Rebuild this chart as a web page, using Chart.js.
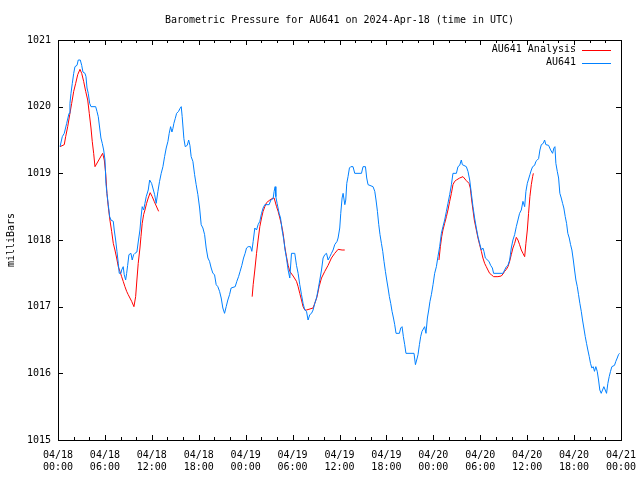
<!DOCTYPE html>
<html>
<head>
<meta charset="utf-8">
<title>Barometric Pressure AU641</title>
<script src="https://cdn.jsdelivr.net/npm/chart.js@4/dist/chart.umd.min.js"></script>
<style>
  body { margin: 0; background: #fff; }
  canvas { display: block; }
</style>
</head>
<body>
<canvas id="pressureChart" width="640" height="480"></canvas>
<script>
// DATA (hours since 04/18 00:00 UTC, pressure in mbar)
const tickDates = ["04/18","04/18","04/18","04/18","04/19","04/19","04/19","04/19","04/20","04/20","04/20","04/20","04/21"];
const tickTimes = ["00:00","06:00","12:00","18:00","00:00","06:00","12:00","18:00","00:00","06:00","12:00","18:00","00:00"];
const pressureTicks = [1015, 1016, 1017, 1018, 1019, 1020, 1021];

const seriesNames = ["AU641 Analysis", "AU641"];

// observed station pressure
const stationPoints = [
  [0.26,1019.4],[0.55,1019.55],[0.8,1019.6],[1.11,1019.75],[1.41,1019.9],[1.53,1020.05],[1.66,1020.2],[1.83,1020.35],[2.01,1020.5],[2.17,1020.6],
  [2.43,1020.62],[2.59,1020.7],[2.85,1020.7],[3.03,1020.62],[3.19,1020.52],[3.45,1020.5],[3.58,1020.45],[3.71,1020.28],[3.87,1020.2],[4.05,1020.05],
  [4.22,1020.0],[4.82,1020.0],[4.98,1019.93],[5.15,1019.85],[5.33,1019.68],[5.49,1019.53],[5.66,1019.45],[5.84,1019.35],[6.01,1019.2],[6.13,1018.85],
  [6.26,1018.7],[6.43,1018.53],[6.61,1018.35],[6.77,1018.3],[7.07,1018.28],[7.19,1018.15],[7.37,1018.0],[7.54,1017.83],[7.71,1017.65],[7.83,1017.5],
  [8.05,1017.5],[8.14,1017.55],[8.34,1017.6],[8.47,1017.48],[8.65,1017.4],[8.78,1017.5],[8.91,1017.62],[9.07,1017.78],[9.33,1017.8],[9.49,1017.7],
  [9.67,1017.78],[9.84,1017.8],[10.09,1017.82],[10.26,1017.97],[10.48,1018.15],[10.61,1018.33],[10.77,1018.5],[10.95,1018.45],[11.12,1018.55],[11.28,1018.65],
  [11.54,1018.75],[11.72,1018.9],[11.97,1018.85],[12.36,1018.68],[12.56,1018.55],[12.78,1018.73],[12.99,1018.88],[13.2,1019.0],[13.42,1019.1],[13.63,1019.25],
  [13.84,1019.38],[14.06,1019.48],[14.22,1019.6],[14.4,1019.7],[14.57,1019.62],[14.69,1019.67],[14.82,1019.75],[14.99,1019.82],[15.17,1019.9],[15.42,1019.93],
  [15.59,1019.97],[15.76,1020.0],[15.88,1019.85],[16.1,1019.52],[16.27,1019.4],[16.53,1019.42],[16.71,1019.5],[16.87,1019.42],[17.03,1019.25],[17.25,1019.18],
  [17.47,1018.98],[17.67,1018.83],[17.89,1018.68],[18.11,1018.48],[18.31,1018.23],[18.53,1018.18],[18.75,1018.08],[18.95,1017.88],[19.17,1017.73],[19.38,1017.68],
  [19.59,1017.58],[19.81,1017.5],[20.02,1017.48],[20.23,1017.33],[20.44,1017.3],[20.66,1017.23],[20.87,1017.13],[21.08,1016.98],[21.3,1016.9],[21.51,1017.0],
  [21.72,1017.1],[21.94,1017.18],[22.14,1017.28],[22.66,1017.3],[22.87,1017.38],[23.09,1017.45],[23.29,1017.53],[23.51,1017.62],[23.73,1017.73],[23.93,1017.8],
  [24.11,1017.88],[24.32,1017.9],[24.62,1017.9],[24.79,1017.83],[24.96,1017.98],[25.17,1018.18],[25.39,1018.15],[25.59,1018.23],[25.81,1018.28],[26.03,1018.4],
  [26.23,1018.48],[26.45,1018.53],[27.0,1018.53],[27.22,1018.6],[27.51,1018.62],[27.64,1018.73],[27.77,1018.8],[27.86,1018.65],[28.02,1018.55],[28.28,1018.4],
  [28.46,1018.33],[28.66,1018.15],[28.88,1018.0],[29.04,1017.85],[29.22,1017.73],[29.43,1017.55],[29.64,1017.43],[29.86,1017.8],[30.28,1017.8],[30.5,1017.62],
  [30.71,1017.5],[30.92,1017.33],[31.14,1017.18],[31.34,1017.05],[31.56,1016.95],[31.78,1016.93],[31.98,1016.8],[32.2,1016.88],[32.42,1016.9],[32.62,1016.95],
  [32.84,1017.05],[33.06,1017.13],[33.26,1017.25],[33.48,1017.4],[33.7,1017.55],[33.9,1017.73],[34.12,1017.78],[34.34,1017.8],[34.54,1017.7],[34.76,1017.75],
  [34.97,1017.8],[35.18,1017.85],[35.39,1017.93],[35.69,1017.98],[35.82,1018.03],[36.03,1018.18],[36.16,1018.4],[36.33,1018.63],[36.46,1018.7],[36.68,1018.53],
  [36.8,1018.6],[36.93,1018.85],[37.09,1018.95],[37.27,1019.08],[37.44,1019.1],[37.73,1019.1],[37.95,1019.0],[38.81,1019.0],[39.01,1019.1],[39.32,1019.1],
  [39.48,1018.93],[39.65,1018.83],[40.29,1018.8],[40.51,1018.73],[40.67,1018.6],[40.85,1018.43],[41.02,1018.23],[41.18,1018.08],[41.36,1017.95],[41.53,1017.83],
  [41.69,1017.68],[41.87,1017.53],[42.04,1017.4],[42.21,1017.28],[42.38,1017.15],[42.55,1017.05],[42.72,1016.93],[42.9,1016.83],[43.06,1016.73],[43.23,1016.6],
  [43.66,1016.6],[43.83,1016.68],[44.0,1016.7],[44.17,1016.55],[44.34,1016.43],[44.5,1016.3],[45.53,1016.3],[45.71,1016.13],[45.87,1016.2],[46.04,1016.28],
  [46.22,1016.43],[46.38,1016.55],[46.55,1016.63],[46.89,1016.7],[47.06,1016.6],[47.24,1016.83],[47.41,1016.95],[47.57,1017.08],[47.75,1017.18],[47.96,1017.33],
  [48.17,1017.5],[48.39,1017.6],[48.59,1017.75],[48.81,1017.9],[49.03,1018.1],[49.23,1018.2],[49.45,1018.3],[49.67,1018.43],[49.87,1018.55],[50.09,1018.68],
  [50.31,1018.83],[50.51,1019.0],[50.95,1019.0],[51.15,1019.1],[51.37,1019.12],[51.58,1019.2],[51.71,1019.13],[52.22,1019.1],[52.43,1019.03],[52.65,1018.9],
  [52.86,1018.7],[53.07,1018.5],[53.28,1018.33],[53.5,1018.18],[53.71,1018.05],[53.92,1017.95],[54.14,1017.85],[54.34,1017.88],[54.47,1017.83],[54.65,1017.73],
  [55.11,1017.68],[55.33,1017.62],[55.55,1017.58],[55.71,1017.5],[56.9,1017.5],[57.12,1017.55],[57.34,1017.6],[57.54,1017.62],[57.76,1017.7],[57.97,1017.88],
  [58.18,1018.0],[58.4,1018.08],[58.61,1018.2],[58.82,1018.3],[59.03,1018.4],[59.25,1018.45],[59.46,1018.58],[59.68,1018.5],[59.84,1018.73],[60.02,1018.85],
  [60.35,1018.98],[60.53,1019.05],[60.7,1019.1],[60.95,1019.12],[61.12,1019.18],[61.3,1019.2],[61.46,1019.22],[61.63,1019.35],[61.81,1019.43],[62.06,1019.45],
  [62.23,1019.5],[62.39,1019.43],[62.74,1019.42],[63.0,1019.35],[63.25,1019.3],[63.42,1019.38],[63.55,1019.4],[63.67,1019.15],[63.85,1019.03],[64.02,1018.93],
  [64.18,1018.7],[64.36,1018.63],[64.53,1018.55],[64.69,1018.48],[64.87,1018.35],[65.04,1018.25],[65.2,1018.1],[65.38,1018.03],[65.55,1017.93],[65.72,1017.85],
  [65.9,1017.7],[66.06,1017.55],[66.23,1017.4],[66.41,1017.3],[66.57,1017.18],[66.74,1017.05],[66.92,1016.93],[67.08,1016.8],[67.25,1016.68],[67.43,1016.55],
  [67.59,1016.45],[67.76,1016.35],[67.94,1016.25],[68.1,1016.15],[68.27,1016.08],[68.45,1016.1],[68.61,1016.03],[68.78,1016.1],[68.96,1016.03],[69.13,1015.9],
  [69.29,1015.75],[69.47,1015.7],[69.64,1015.75],[69.81,1015.8],[69.98,1015.75],[70.15,1015.7],[70.32,1015.85],[70.49,1015.95],[70.66,1016.03],[70.83,1016.1],
  [71.17,1016.12],[71.34,1016.18],[71.52,1016.23],[71.68,1016.28],[71.81,1016.3]
];

// analysis, null = gap between the three runs
const analysisPoints = [
  [0.26,1019.4],[0.8,1019.43],[0.98,1019.55],[1.24,1019.7],[1.5,1019.88],[1.75,1020.05],[2.01,1020.23],[2.26,1020.35],[2.52,1020.48],[2.81,1020.56],
  [3.03,1020.5],[3.28,1020.38],[3.54,1020.23],[3.8,1020.1],[4.0,1019.9],[4.22,1019.68],[4.38,1019.48],[4.56,1019.3],[4.73,1019.1],[5.71,1019.3],
  [5.92,1019.2],[6.1,1019.0],[6.26,1018.7],[6.43,1018.5],[6.64,1018.3],[6.86,1018.13],[7.07,1017.95],[7.28,1017.85],[7.5,1017.73],[7.71,1017.6],
  [7.92,1017.53],[8.14,1017.45],[8.34,1017.38],[8.56,1017.3],[8.78,1017.23],[8.98,1017.18],[9.42,1017.08],[9.71,1017.0],[9.93,1017.15],[10.09,1017.4],
  [10.26,1017.65],[10.48,1017.88],[10.61,1018.05],[10.77,1018.25],[10.95,1018.38],[11.12,1018.45],[11.33,1018.55],[11.54,1018.63],[11.79,1018.71],[12.05,1018.65],
  [12.3,1018.58],[12.87,1018.43],
  [18,null],
  [24.83,1017.15],[24.96,1017.33],[25.17,1017.55],[25.39,1017.8],[25.59,1018.0],[25.81,1018.2],[26.03,1018.33],[26.23,1018.43],[26.45,1018.5],[26.67,1018.56],
  [27.09,1018.6],[27.51,1018.63],[27.64,1018.63],[27.95,1018.5],[28.15,1018.43],[28.37,1018.33],[28.58,1018.23],[28.79,1018.1],[29.0,1017.9],[29.22,1017.75],
  [29.43,1017.62],[29.64,1017.53],[30.07,1017.46],[30.5,1017.38],[30.71,1017.3],[30.92,1017.2],[31.14,1017.1],[31.34,1017.0],[31.56,1016.95],[31.78,1016.95],
  [32.62,1016.98],[32.84,1017.05],[33.13,1017.15],[33.39,1017.3],[33.7,1017.43],[34.12,1017.53],[34.54,1017.62],[34.97,1017.73],[35.39,1017.8],[35.82,1017.86],
  [36.33,1017.85],[36.67,1017.85],
  [42,null],
  [48.72,1017.7],[48.9,1017.9],[49.07,1018.05],[49.23,1018.15],[49.45,1018.25],[49.67,1018.35],[49.87,1018.45],[50.09,1018.58],[50.31,1018.7],[50.51,1018.83],
  [50.73,1018.88],[50.95,1018.9],[51.37,1018.93],[51.79,1018.95],[52.22,1018.89],[52.56,1018.85],[52.73,1018.78],[52.9,1018.6],[53.07,1018.45],[53.24,1018.3],
  [53.5,1018.15],[53.71,1018.03],[53.92,1017.93],[54.14,1017.83],[54.34,1017.73],[54.56,1017.65],[54.77,1017.6],[54.98,1017.55],[55.2,1017.5],[55.41,1017.48],
  [55.71,1017.45],[56.26,1017.45],[56.69,1017.46],[56.9,1017.49],[57.12,1017.53],[57.34,1017.56],[57.54,1017.6],[57.76,1017.68],[57.97,1017.78],[58.18,1017.88],
  [58.4,1017.95],[58.61,1018.04],[58.82,1018.0],[59.03,1017.93],[59.25,1017.85],[59.46,1017.8],[59.68,1017.75],[59.84,1017.95],[60.02,1018.15],[60.18,1018.4],
  [60.35,1018.65],[60.53,1018.83],[60.7,1018.95],[60.79,1019.0]
];

const FONT = "'DejaVu Sans Mono', 'Liberation Mono', monospace";
const RED = "#ff0000";
const BLUE = "#0080ff";

const toXY = pts => pts.map(p => ({ x: p[0], y: p[1] }));

// gnuplot style frame, inward ticks, title, legend
const gnuplotDecor = {
  id: "gnuplotDecor",
  afterDatasetsDraw(chart) {
    const { ctx, chartArea: a, scales } = chart;
    const xs = scales.x, ys = scales.y;
    ctx.save();
    ctx.strokeStyle = "#000";
    ctx.lineWidth = 1;

    ctx.beginPath();
    // x ticks every 2h, longer every 6h
    for (let h = 0; h <= 72; h += 2) {
      const px = Math.round(xs.getPixelForValue(h)) + 0.5;
      const len = h % 6 === 0 ? 5 : 3;
      ctx.moveTo(px, a.bottom); ctx.lineTo(px, a.bottom - len);
      ctx.moveTo(px, a.top); ctx.lineTo(px, a.top + len);
    }
    pressureTicks.forEach(v => {
      const py = Math.round(ys.getPixelForValue(v)) + 0.5;
      ctx.moveTo(a.left, py); ctx.lineTo(a.left + 5, py);
      ctx.moveTo(a.right, py); ctx.lineTo(a.right - 5, py);
    });
    ctx.stroke();

    // border
    ctx.strokeRect(Math.round(a.left) + 0.5, Math.round(a.top) + 0.5,
      Math.round(a.right - a.left), Math.round(a.bottom - a.top));

    // title
    ctx.fillStyle = "#000";
    ctx.font = "10px " + FONT;
    ctx.textAlign = "center";
    ctx.textBaseline = "middle";
    ctx.fillText("Barometric Pressure for AU641 on 2024-Apr-18 (time in UTC)", (a.left + a.right) / 2, 20);

    // y axis title
    ctx.save();
    ctx.translate(11, (a.top + a.bottom) / 2);
    ctx.rotate(-Math.PI / 2);
    ctx.fillText("milliBars", 0, 0);
    ctx.restore();

    // legend
    const colors = [RED, BLUE];
    seriesNames.forEach((name, i) => {
      const y = 49.5 + i * 13;
      ctx.textAlign = "right";
      ctx.fillStyle = "#000";
      ctx.fillText(name, 576, y);
      ctx.strokeStyle = colors[i];
      ctx.beginPath();
      ctx.moveTo(582, Math.round(y) + 0.5);
      ctx.lineTo(611, Math.round(y) + 0.5);
      ctx.stroke();
    });
    ctx.restore();
  }
};

const ctx = document.getElementById("pressureChart");

new Chart(ctx, {
  type: "line",
  data: {
    datasets: [
      {
        label: seriesNames[1],
        data: toXY(stationPoints),
        borderColor: BLUE,
        borderWidth: 1,
        pointRadius: 0,
        tension: 0,
        fill: false
      },
      {
        label: seriesNames[0],
        data: toXY(analysisPoints),
        borderColor: RED,
        borderWidth: 1,
        pointRadius: 0,
        tension: 0,
        fill: false,
        spanGaps: false
      }
    ]
  },
  options: {
    responsive: false,
    animation: false,
    layout: { padding: { top: 40, right: 19, bottom: 0, left: 0 } },
    plugins: {
      legend: { display: false },
      tooltip: { enabled: false },
      title: { display: false }
    },
    scales: {
      x: {
        type: "linear",
        min: 0,
        max: 72,
        grid: { display: false, drawTicks: false },
        border: { display: false },
        // fixed box, no extra room for the edge labels
        afterFit: s => { s.height = 40; s.paddingLeft = 0; s.paddingRight = 0; },
        ticks: {
          stepSize: 6,
          autoSkip: false,
          maxRotation: 0,
          padding: 9,
          color: "#000",
          font: { family: FONT, size: 10, lineHeight: 1.2 },
          callback: (v, i) => [tickDates[i], tickTimes[i]]
        }
      },
      y: {
        min: 1015,
        max: 1021,
        grid: { display: false, drawTicks: false },
        border: { display: false },
        afterFit: s => { s.width = 58; s.paddingTop = 0; s.paddingBottom = 0; },
        ticks: {
          stepSize: 1,
          padding: 7,
          color: "#000",
          font: { family: FONT, size: 10 },
          callback: v => String(v)
        }
      }
    }
  },
  plugins: [gnuplotDecor]
});
</script>
</body>
</html>
